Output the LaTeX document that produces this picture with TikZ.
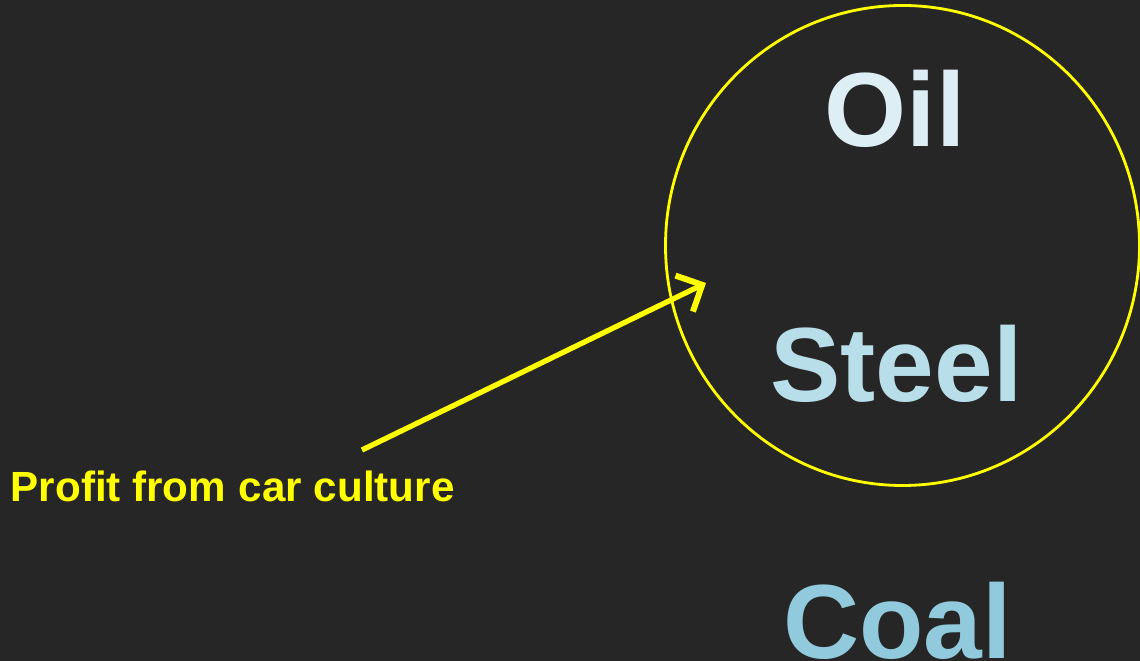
\documentclass[tikz,border=0pt]{standalone}
\usepackage{fontspec}
\setmainfont{Liberation Sans}
\usetikzlibrary{arrows.meta}
\definecolor{bgdark}{HTML}{262626}
\definecolor{oilc}{HTML}{DDEFF5}
\definecolor{steelc}{HTML}{B8DEE9}
\definecolor{coalc}{HTML}{90CADC}
\definecolor{hiyellow}{HTML}{FFFF00}
\tikzset{
  big/.style={inner sep=0pt, anchor=base, font=\fontsize{30}{35}\selectfont\bfseries},
  note/.style={inner sep=0pt, anchor=base west, text=hiyellow, font=\fontsize{12}{14}\selectfont\bfseries}
}
\begin{document}
\begin{tikzpicture}[auto]
        \fill[bgdark] (0, 0) rectangle (11.4, 6.61);
        \useasboundingbox (0, 0) rectangle (11.4, 6.61);

        \draw[hiyellow, line width=0.8pt] (9.025, 4.155) ellipse [x radius=2.37, y radius=2.40];

        \node[big, text=oilc] (oil) at (8.95, 5.14) {Oil};
        \node[big, text=steelc] (steel) at (8.965, 2.59) {Steel};
        \node[big, text=coalc] (coal) at (8.975, 0.03) {Coal};

        \node[note] (profit) at (0.10, 1.59) {Profit from\hspace{0.3em}car culture};
        \coordinate (tail) at (3.62, 2.11);
        \coordinate (tip) at (7.06, 3.78);

        \draw[hiyellow, line width=1.5pt, -{Straight Barb[length=2mm, width=4mm, line width=1.7pt]}] (tail) to (tip);
      \end{tikzpicture}
\end{document}
